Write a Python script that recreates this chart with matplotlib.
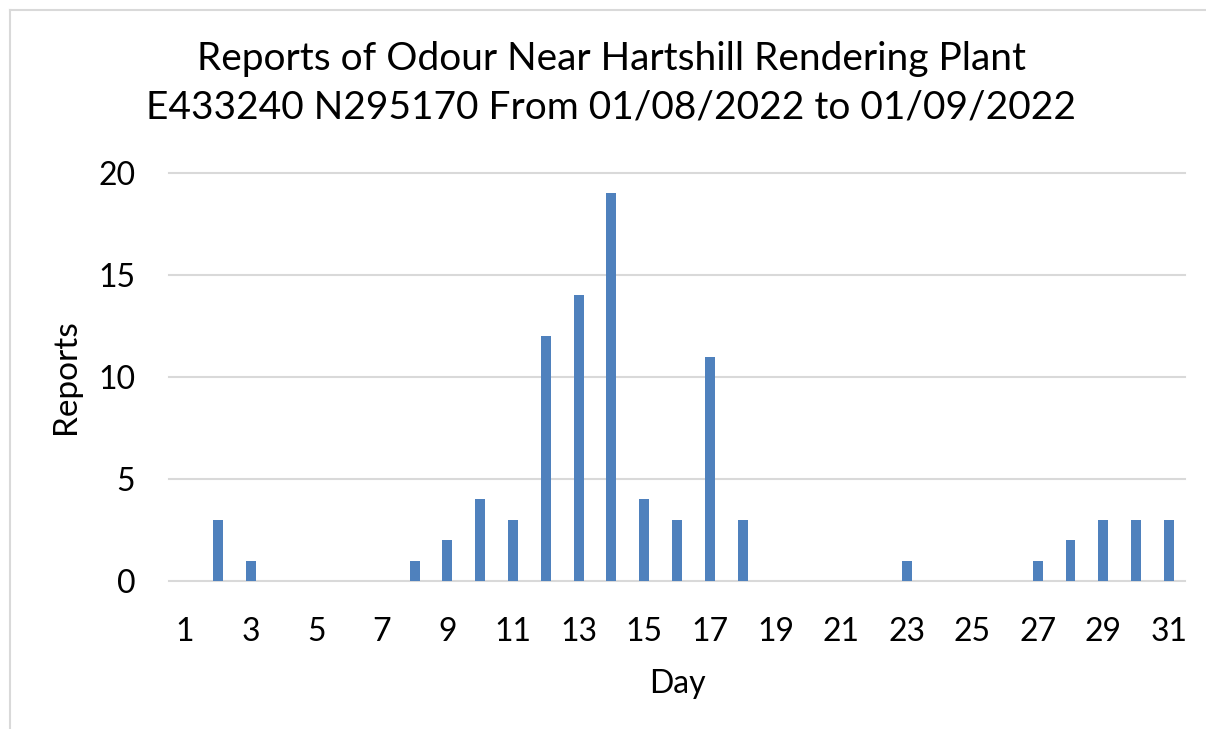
# Odour reports per day, Aug 2022 - column chart in the old Excel look
import numpy as np
import matplotlib.pyplot as plt
from matplotlib.lines import Line2D

plt.rcParams['font.family'] = ['Lato', 'DejaVu Sans']

# data
days = list(range(1, 32))
reports = [0, 3, 1, 0, 0, 0, 0, 1, 2, 4, 3, 12, 14, 19, 4, 3, 11, 3,
           0, 0, 0, 0, 1, 0, 0, 0, 1, 2, 3, 3, 3]
tick_days = days[::2]
y_ticks = [0, 5, 10, 15, 20]

title = ("Reports of Odour Near Hartshill Rendering Plant\n"
         "E433240 N295170 From 01/08/2022 to 01/09/2022")

fig = plt.figure(figsize=(12.06, 7.29), dpi=100)
ax = fig.add_axes([0.1398, 0.2030, 0.8431, 0.5597])

ax.bar(days, reports, width=0.3, color='#4F81BD', zorder=3)

ax.set_xlim(0.5, 31.5)
ax.set_ylim(0, 20)
ax.set_xticks(tick_days)
ax.set_yticks(y_ticks)
ax.tick_params(axis='both', length=0, labelsize=23, colors='black')
ax.tick_params(axis='y', pad=24)
ax.tick_params(axis='x', pad=26)

for y in y_ticks:
    ax.axhline(y, color='#D9D9D9', linewidth=1.5, zorder=1, clip_on=False)
for s in ax.spines.values():
    s.set_visible(False)

ax.set_xlabel("Day", fontsize=23, labelpad=16)
ax.set_ylabel("Reports", fontsize=24, labelpad=12)
fig.text(0.507, 0.944, title, ha='center', va='top', fontsize=28,
         linespacing=1.42)

# thin grey chart frame (top and left edges visible)
fig.add_artist(Line2D([10 / 1206, 1], [1 - 9.5 / 729] * 2,
                      transform=fig.transFigure, color='#D9D9D9', lw=1.5))
fig.add_artist(Line2D([10 / 1206] * 2, [0, 1 - 9.5 / 729],
                      transform=fig.transFigure, color='#D9D9D9', lw=1.5))

fig.savefig("out.png", dpi=100)
